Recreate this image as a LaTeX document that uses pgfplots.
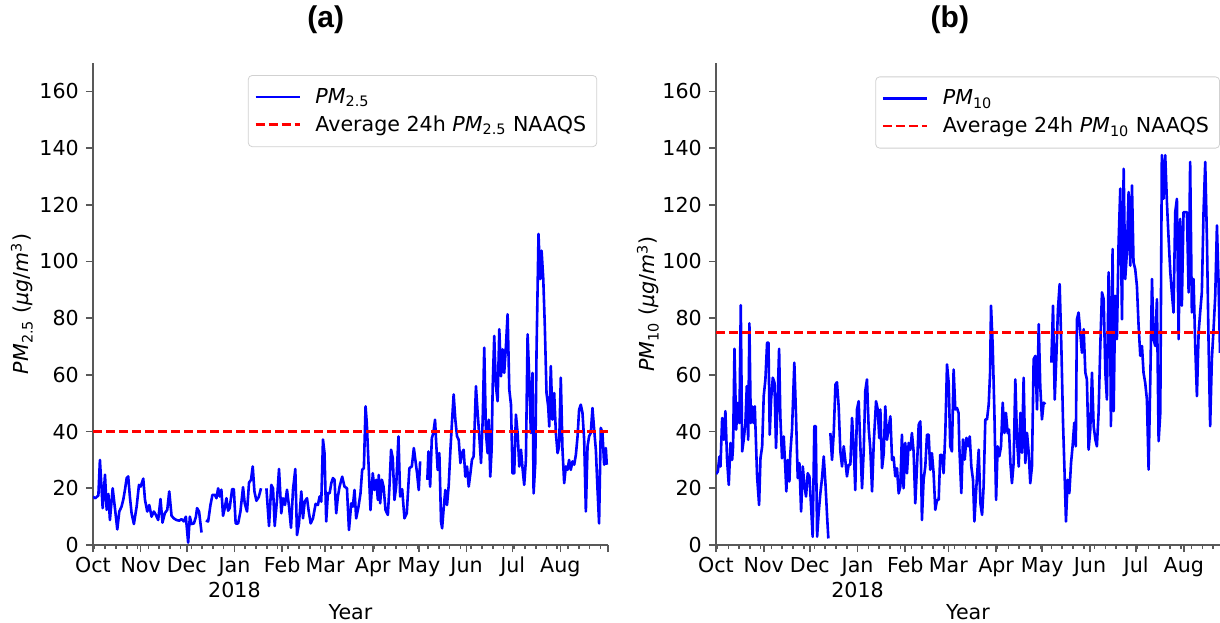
\documentclass[border=0pt]{standalone}
\usepackage{pgfplots}
\pgfplotsset{compat=1.18}
\usepackage{fontspec}
\setmainfont{DejaVu Sans}
\newfontfamily\titlefont{Liberation Sans}
\definecolor{spine}{gray}{0.35}
\definecolor{pmblue}{rgb}{0,0,1}
\definecolor{pmred}{rgb}{1,0,0}
\pgfplotsset{
  panel/.style={
    scale only axis,
    axis x line=bottom, axis y line=left,
    axis line style={-, draw=spine, line width=0.8bp},
    every tick/.style={draw=spine, line width=0.8bp},
    tick align=outside,
    major tick length=3.5bp, minor tick length=2bp,
    ymin=0, ymax=170, ytick={0,20,...,160},
    xmin=0,
    xtick={0,31,61,92,123,151,182,212,243,273,304,335},
    xticklabels={Oct,Nov,Dec,{Jan\\2018},Feb,Mar,Apr,May,Jun,Jul,Aug,{}},
    minor xtick={1,8,15,22,29,36,43,50,57,64,71,78,85,92,99,106,113,120,127,134,141,148,155,162,169,176,183,190,197,204,211,218,225,232,239,246,253,260,267,274,281,288,295,302,309,316,323,330},
    x tick label style={align=center, yshift=1bp},
    /pgf/number format/assume math mode=true,
    unbounded coords=jump,
    xlabel={Year},
    xlabel style={at={(axis description cs:0.5,-0.139)}, anchor=center},
    legend cell align=left,
    legend style={draw=black!18, rounded corners=2bp, fill=white, inner xsep=3bp, inner ysep=4bp, row sep=0bp,
      nodes={inner sep=2.3bp},
      font=\fontsize{10.3bp}{12.4bp}\selectfont},
    legend image code/.code={\draw[#1] (0bp,0bp) -- (22bp,0bp);},
    title style={font=\titlefont\bfseries\fontsize{15bp}{18bp}\selectfont, anchor=center},
  }
}
\begin{document}
\fontsize{10.3bp}{12.4bp}\selectfont
\begin{tikzpicture}
\path[use as bounding box] (0,0) rectangle (610bp,311.5bp);
% ---------- panel (a)
\begin{axis}[panel,
  at={(46.5bp,39bp)}, anchor=south west,
  width=257.5bp, height=241bp,
  xmax=335,
  title={(a)}, title style={at={(axis description cs:0.452,1.064)}},
  ylabel={\textit{PM}\textsubscript{2.5} (\textit{μg}/\textit{m}\textsuperscript{3})},
  ylabel style={at={(axis description cs:-0.138,0.5)}, anchor=center},
  legend style={at={(axis description cs:0.979,0.975)}, anchor=north east},
]
\addplot[pmblue, line width=1.3bp, line join=round] coordinates {
(0,17) (1.5,16.5) (3.5,17.5) (4.5,30) (6.3,13) (7.8,24.8) (8.9,12.4) (10,18) (11,8.8) (12.8,20) (14.9,10) (15.8,5.5) (17.1,11.8) (18.6,13.6) (19.7,16) (20.8,19.5) (21.9,23.6) (22.9,24.2) (24,17) (25.1,11.2) (26.6,7.4) (28.4,13.6) (29.9,21.2) (31,20.6) (32.7,23.4) (33.8,16) (35.3,11.8) (36.6,14.1) (38.1,10) (39.6,11.8) (40.9,10.6) (42.4,8.8) (43.9,16.2) (45.2,7.9) (46.7,11.2) (48.3,12.4) (49.6,18.9) (51.1,10.3) (52.6,9.4) (54.3,8.8) (56.1,8.6) (57.6,9.1) (59.1,8.3) (60.4,10) (61.9,0.8) (63,10) (64.1,7.4) (65.6,7.6) (66.9,9.8) (67.7,13) (69,11.8) (70.6,4.4) (72,nan)
(73.4,8.6) (74.9,8.3) (76.4,14.1) (77.7,17.7) (79.2,17.7) (80.3,16.5) (81.4,20) (82.5,17.1) (83.5,19.5) (84.6,10.3) (85.7,13) (86.8,16.5) (87.9,12.1) (88.9,13) (90.5,19.7) (91.6,19.7) (92.8,7.6) (94.4,7.6) (95.9,11.8) (97.6,20.4) (98.7,14.7) (100.2,11.8) (101.5,22) (102.8,23) (103.9,27.7) (105,18.9) (106.3,15.6) (107.8,16.9) (109.3,20) (111,nan)
(112.8,20) (114.5,6.7) (116,21.2) (117.1,20) (118.2,6.7) (119.7,16) (121,26.8) (122.5,11.2) (123.6,16.5) (124.9,14.1) (126.2,19.5) (127.5,13.6) (128.8,6.1) (130.1,19.5) (131.6,26.8) (132.7,3.5) (134,7.6) (135.5,18.9) (136.6,9.4) (137.7,15.3) (139.2,16.5) (140.5,11.2) (141.6,7.6) (143.1,9.4) (144.8,14.5) (146.3,14.1) (147.4,17.1) (148.5,15.3) (149.6,37.2) (150.6,32.4) (151.7,8.3) (152.8,18.3)
(153.9,18.2) (155,21.8) (156.1,23.6) (157.1,23) (158.2,11.2) (159.3,17.1) (160.4,20.6) (162.1,24.1) (163.6,20.6) (165.2,20) (166.5,5.3) (168,14.7) (169,13.5) (170.1,19.4) (171.2,9.4) (172.7,13.5) (174,18.2) (175.1,26.5) (176.2,27.1) (177.3,48.9) (178.1,43) (179.4,26.5) (180.5,12.3) (182,25.3) (183.1,19.4) (184.2,23) (185.3,15.9) (185.9,24.7) (186.8,14.7) (187.9,23) (189,20.6) (190.3,12.3) (191.8,10.6) (192.9,21.2) (193.9,33.6) (195,30.6) (196.1,15.9) (197.2,20.6) (198.7,38.3) (199.8,17.1) (201.1,19.7) (202.6,9.4) (204.1,11.2) (205.8,27.1) (207.4,27.7) (208.7,34.2) (209.7,30) (210.8,25.3) (211.9,19.4) (212.8,29.5) (215,nan)
(217.5,23) (218.2,33) (219.3,20.6) (220.4,37.7) (221.4,39.5) (222.5,44.2) (223.2,36.5) (224.2,26.5) (225.3,32.4) (226.4,8.2) (227.1,5.9) (228.1,12.9) (229.2,19.4) (230.3,14.1) (231.4,21.2) (232.5,33.6) (233.6,44.2) (234.6,53.1) (235.7,44.2) (236.8,38.3) (237.9,37.1) (239,28.9) (240,32.4) (241.1,33.6) (242.2,24.1) (243.3,27.7) (244.4,20.6) (245.5,25.3) (246.5,30) (247.6,31.2) (249.1,56) (250.2,46.6) (251.3,38.3) (252.4,28.9) (253.5,44.2) (254.5,69.6) (255.6,39.5) (256.7,32.4) (257.4,44.2) (258.4,24.1) (259.3,33.6) (260,56) (261,73.7) (262.1,56) (263.2,50.7) (264.3,76.1) (265.4,59.5) (266.5,69) (267.5,60.7) (268.6,70.2) (269.7,81.4) (270.8,54.8) (271.9,49.5) (272.9,25.3) (274,25.3) (275.1,46) (276.2,39.5) (277.3,27.7) (278.4,33.6) (279.4,27.1) (280.5,21.2) (281.6,30) (282.7,74.3) (283.8,58.4) (284.8,39.5) (285.9,60.7) (286.6,18.2) (287.7,28.9) (288.5,67.8) (289.8,109.7) (290.9,93.8) (291.8,103.8) (292.9,93.8) (293.9,77.2) (295,53.6) (296.1,48.9) (296.8,41.8) (297.8,63.1) (298.9,44.2) (300,53.6) (301.1,39.5) (302.2,32.4) (303.2,34.8) (304.3,59) (305.4,33.6) (306.5,21.8) (307.6,27.7) (308.7,26.5) (309.7,30) (310.8,26.5) (311.9,29.5) (313,28.3) (314.1,31.8) (315.2,38.3) (316.2,47.7) (317.3,49.5) (318.4,46.6) (319.5,37.1) (320.6,11.8) (321.7,34.8) (322.7,38.3) (323.8,39.5) (324.9,48.3) (326,40.7) (327.1,33.6) (328.1,20.6) (329.2,7.6) (330.3,41.3) (331.4,39.5) (332.5,28.3) (333.6,34.2) (334.2,28.3)
};
\addlegendentry{\hspace{5bp}\textit{PM}\textsubscript{2.5}}
\addplot[pmred, line width=1.3bp, dash pattern=on 4.5bp off 2bp] coordinates {(0,40) (335,40)};
\addlegendentry{\hspace{5bp}Average 24h \textit{PM}\textsubscript{2.5} NAAQS}
\end{axis}
% ---------- panel (b)
\begin{axis}[panel,
  at={(358bp,39bp)}, anchor=south west,
  width=252bp, height=241bp,
  xmax=327.5,
  title={(b)}, title style={at={(axis description cs:0.464,1.064)}},
  ylabel={\textit{PM}\textsubscript{10} (\textit{μg}/\textit{m}\textsuperscript{3})},
  ylabel style={at={(axis description cs:-0.135,0.5)}, anchor=center},
  legend style={at={(axis description cs:1.0,0.972)}, anchor=north east},
]
\addplot[pmblue, line width=1.3bp, line join=round] coordinates {
(0,25) (1.2,25.9) (2.2,31.2) (2.9,27.7) (4,44.8) (5.1,37.1) (6.1,47.2) (7.2,30) (8.3,21.2) (9.4,36) (10.5,30) (11.1,34.8) (12,69.2) (13.1,40.7) (14.1,50.1) (15.2,43) (16.1,84.6) (17,33) (18,37.1) (19.1,43) (20,56) (20.9,37.1) (21.7,78.2) (22.6,43) (23.4,48.9) (24.5,43) (25.2,48.9) (26.7,24.2) (28,14.1) (28.9,30.6) (30,34.8) (31,52.5) (32.1,58.4) (33.2,71.4) (34.1,71.4) (34.9,38.9) (35.8,51.3) (36.9,59) (38,57.2) (39,34.2) (40.1,52.5) (41,69.2) (41.8,45.4) (42.9,30.6) (44,38.3) (45.1,26.5) (45.7,18.9) (46.6,30) (47.7,22.4) (48.3,32.4) (49.4,40.7) (50.9,64.3) (52,45.4) (53.1,23.6) (54.2,28.9) (55.3,11.8) (56.4,27.7) (57.4,21.2) (58.5,17.1) (59.6,25.3) (60.7,24.2) (61.8,13.5) (62.8,2.9) (63.9,41.9) (64.8,41.9) (65.7,2.9) (66.7,11.2) (67.8,18.2) (68.9,23.6) (70,31.2) (71.1,21.8) (72.2,10) (73,2.3) (73.6,nan)
(74.3,39.5) (75.4,30) (76.5,39.5) (77.6,56.6) (78.6,57.4) (79.7,48.9) (80.8,33) (81.9,27.7) (83,34.8) (84.1,29.5) (85.1,24.2) (86.2,28.3) (87.3,28.3) (88.4,44.8) (89.5,34.2) (90.5,19.4) (91.6,47.8) (92.7,50.7) (93.8,34.8) (94.9,20) (96,33.6) (97,54.3) (98.1,58.4) (99.2,41.3) (100.3,33.6) (101.4,18.9) (102.5,36) (104,50.7) (105.1,47.8) (106.1,37.7) (106.8,47.8) (107.9,27.1) (109,32.4) (110,48.9) (111.1,37.1) (113.3,45.4) (114.4,30) (115.4,31) (116.5,24.2) (117.6,27.1) (118.7,18.2) (119.8,20.6) (120.8,38.9) (121.9,20) (123,36) (124.1,25.3) (125.2,36) (126.3,33.6) (127.3,39.5) (128.4,33) (129.5,14.7) (130.6,27.7) (131.7,42.4) (132.8,43.6) (133.8,8.8) (134.9,23) (136,27.7) (137.1,38.9) (138.2,38.9) (139.2,26.5) (140.3,32.4) (141.4,25.3) (142.5,12.4) (143.6,15.9) (144.7,15.9) (145.7,31.8) (146.8,31.8) (147.9,25.3) (149,39.5) (150.1,63.7) (151.2,57.2) (152.2,34.8) (153.3,33) (154.4,61.9) (155.5,47.8) (156.6,48.3) (157.6,46.6)
(158.1,34.8) (159.4,18.3) (160.5,37.2) (161.6,30.1) (162.7,37.8) (163.8,34.8) (164.9,38.3) (165.9,27.7) (167,23) (167.9,8.3) (169.2,20.7) (170.7,33.6) (171.8,14.7) (172.9,10.6) (173.9,20.7) (175,44.3) (176.1,44.3) (177.2,49.6) (178.1,60.8) (178.7,84.4) (179.8,70.2) (180.9,46.6) (182,15.9) (183,34.8) (184.1,31.3) (185.2,34.8) (186.3,50.2) (187.4,39.5) (188.4,46.6) (189.5,39.5) (190.4,40.7) (191.3,28.9) (192.3,21.8) (193.4,28.9) (194.5,58.4) (195.6,37.2) (196.7,27.7) (197.8,46.6) (198.8,32.5) (199.9,59) (201,28.9) (202.1,39.5) (203.2,32.5) (204.2,21.8) (205.3,27.7) (206.4,65.5) (207.5,66.7) (208.6,47.8) (209.7,77.9) (210.7,56) (211.8,44.3) (212.9,50.2) (214,49.6) (216,nan)
(217.9,64.3) (219,84.4) (220.1,51.3) (221.1,65.5) (222.2,83.2) (223.3,92) (224.4,70.2) (225.5,43.1) (226.5,25.4) (227.4,8.3) (228.5,23) (229.6,18.3) (230.7,28.9) (231.7,34.8) (232.8,43.1) (233.8,34.8) (234.5,79.6) (235.6,82) (236.7,74.9) (237.8,67.8) (238.9,76.1) (240,60.8) (241,58.4) (242.1,33.6) (243.2,40.7) (244.3,60.8) (245.4,41.9) (246.5,37.2) (247.5,34.8) (248.6,46.6) (249.7,70.2) (250.8,89.1) (251.9,86.7) (253,60.8) (254,51.3) (255.1,96.2) (256.2,72.6) (256.6,41.9) (257.7,104.4) (258.4,47.2) (259.4,87.9) (260.5,72.6) (261.6,106.8) (262.7,125.7) (263.8,79.6) (264.9,132.7) (265.9,93.8) (267,103.2) (268.1,124.5) (269.2,98.5) (270.3,126.8) (271.3,99.7) (272.4,97.3) (273.5,91.4) (274.6,77.3) (275.7,66.7) (276.8,70.2) (277.8,60.8) (278.9,57.2) (280,51.3) (281.1,26.6) (282.2,58.4) (283.3,93.8) (284.3,72.6) (285.4,70.2) (286.5,86.7) (287.6,36.6) (288.7,46.6) (289.7,137.5) (290.8,122.1) (291.9,137.5) (293,120.9) (294.1,108) (295.2,96.2) (296.2,89.1) (297.3,82) (298.4,117.4) (299.5,122.1) (300.6,72.6) (301.6,115) (302.7,84.4) (303.8,117.4) (304.9,117.4) (306,117.4) (307.1,89.1) (308.1,135.1) (309.2,82) (310.3,93.8) (311.4,70.2) (312.5,52.5) (313.6,74.9) (314.6,82) (315.7,89.1) (316.8,117.4) (317.9,135.1) (319,108) (320.1,70.2) (321.1,41.9) (322.2,65.5) (323.3,76.1) (324.4,87.9) (325.5,112.7) (326.5,93.8) (327.5,67.8)
};
\addlegendentry{\hspace{5bp}\textit{PM}\textsubscript{10}}
\addplot[pmred, line width=1.3bp, dash pattern=on 4.5bp off 2bp] coordinates {(0,75) (327.5,75)};
\addlegendentry{\hspace{5bp}Average 24h \textit{PM}\textsubscript{10} NAAQS}
\end{axis}
\end{tikzpicture}
\end{document}
